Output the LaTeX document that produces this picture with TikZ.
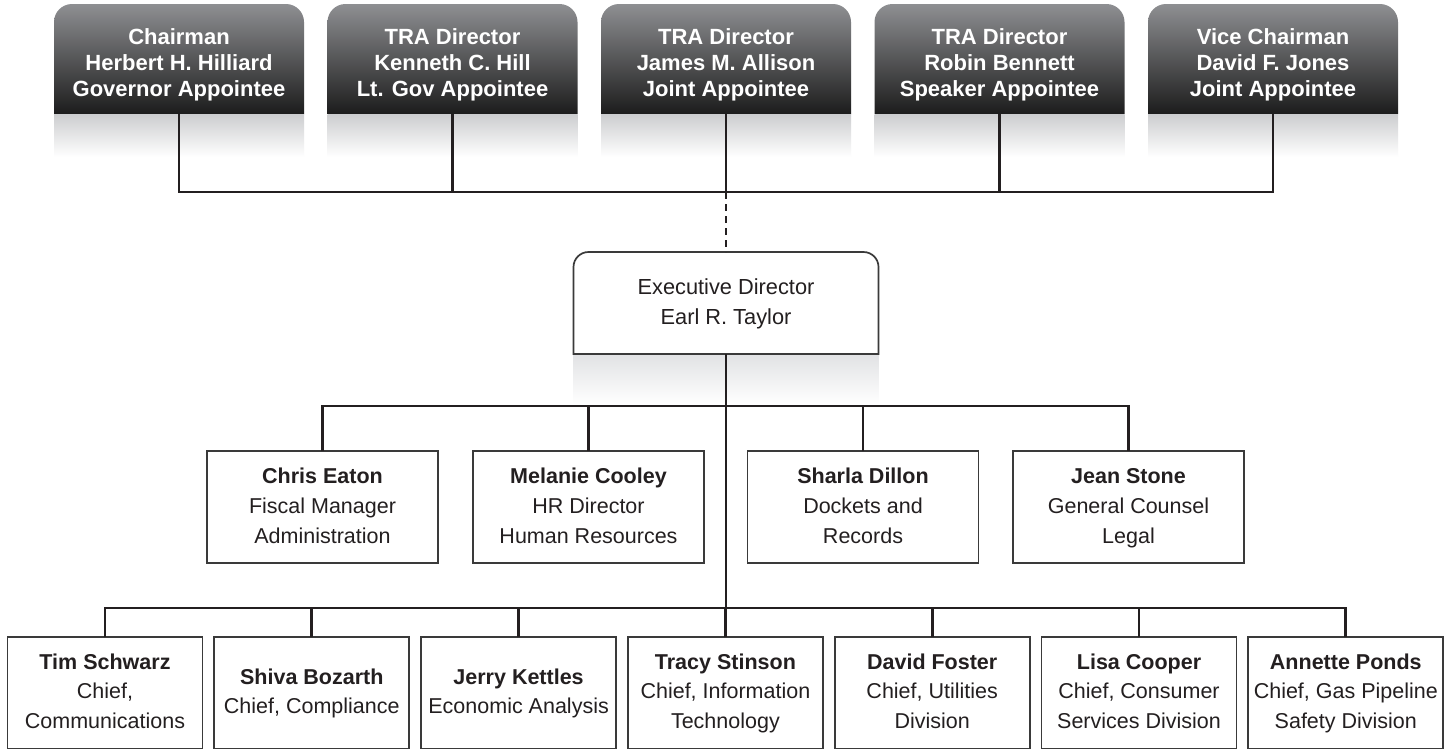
\documentclass[tikz,border=0pt]{standalone}
\usepackage{fontspec}
\setmainfont{Liberation Sans}
\pgfdeclarelayer{background}
\pgfsetlayers{background,main}
\definecolor{topgray}{HTML}{8E8F92}
\definecolor{botdark}{HTML}{1C1C1C}
\definecolor{refl}{HTML}{CCCDCF}
\definecolor{refltwo}{HTML}{E1E2E4}
\definecolor{ink}{HTML}{231F20}
\definecolor{edgegray}{HTML}{3A3A3A}
\tikzset{
  board/.style={minimum width=250pt, minimum height=110pt, inner sep=0pt, outer sep=0pt},
  boardtxt/.style={inner sep=0pt, align=center, text=white, font=\fontsize{22}{26}\selectfont\bfseries},
  execbox/.style={minimum width=305pt, minimum height=102pt, inner sep=0pt, outer sep=0pt, align=center, text=ink, font=\fontsize{21.8}{30}\selectfont},
  staff/.style={draw=edgegray, line width=1.7pt, minimum width=231pt, minimum height=112pt, inner sep=0pt, outer sep=0pt, align=center, text=ink, font=\fontsize{21.5}{30}\selectfont},
  chief/.style={staff, minimum width=195pt, font=\fontsize{21.5}{29.5}\selectfont},
  conn/.style={line width=2.8pt, draw=ink},
  dashconn/.style={conn, dash pattern=on 7pt off 5pt},
}
\begin{document}
\begin{tikzpicture}[x=1pt,y=-1pt]
\useasboundingbox (0,0) rectangle (1452,748);
\clip (0,0) rectangle (1452,748);

% board
\node[board] (t1) at (179,59) {};
\node[board] (t2) at (452.5,59) {};
\node[board] (t3) at (726,59) {};
\node[board] (t4) at (999.5,59) {};
\node[board] (t5) at (1273,59) {};
\node[boardtxt] (t1x) at ([yshift=-6pt]t1.center) {\strut Chairman\\\strut Herbert H. Hilliard\\\strut Governor Appointee};
\node[boardtxt] (t2x) at ([yshift=-6pt]t2.center) {\strut TRA Director\\\strut Kenneth C. Hill\\\strut Lt. Gov Appointee};
\node[boardtxt] (t3x) at ([yshift=-6pt]t3.center) {\strut TRA Director\\\strut James M. Allison\\\strut Joint Appointee};
\node[boardtxt] (t4x) at ([yshift=-6pt]t4.center) {\strut TRA Director\\\strut Robin Bennett\\\strut Speaker Appointee};
\node[boardtxt] (t5x) at ([yshift=-6pt]t5.center) {\strut Vice Chairman\\\strut David F. Jones\\\strut Joint Appointee};

% executive
\node[execbox] (ed) at (726,303) {\strut Executive Director\\\strut Earl R. Taylor};

% staff
\node[staff] (s1) at (322.5,507) {\strut\textbf{Chris Eaton}\\\strut Fiscal Manager\\\strut Administration};
\node[staff] (s2) at (588.5,507) {\strut\textbf{Melanie Cooley}\\\strut HR Director\\\strut Human Resources};
\node[staff] (s3) at (863,507) {\strut\textbf{Sharla Dillon}\\\strut Dockets and\\\strut Records};
\node[staff] (s4) at (1128.5,507) {\strut\textbf{Jean Stone}\\\strut General Counsel\\\strut Legal};

% chiefs
\node[chief] (c1) at (105,693) {\strut\textbf{Tim Schwarz}\\\strut Chief,\\\strut Communications};
\node[chief] (c2) at (311.8,693) {\strut\textbf{Shiva Bozarth}\\\strut Chief, Compliance};
\node[chief] (c3) at (518.6,693) {\strut\textbf{Jerry Kettles}\\\strut Economic Analysis};
\node[chief] (c4) at (725.4,693) {\strut\textbf{Tracy Stinson}\\\strut Chief, Information\\\strut Technology};
\node[chief] (c5) at (932.2,693) {\strut\textbf{David Foster}\\\strut Chief, Utilities\\\strut Division};
\node[chief] (c6) at (1139,693) {\strut\textbf{Lisa Cooper}\\\strut Chief, Consumer\\\strut Services Division};
\node[chief] (c7) at (1345.8,693) {\strut\textbf{Annette Ponds}\\\strut Chief, Gas Pipeline\\\strut Safety Division};

\begin{pgfonlayer}{background}
  \fill[white] (0,0) rectangle (1452,748);
  \foreach \n in {t1,t2,t3,t4,t5} {
    \shade[top color=topgray, bottom color=botdark]
      (\n.south west) [rounded corners=18pt] -- (\n.north west) -- (\n.north east) [sharp corners] -- (\n.south east) -- cycle;
    \shade[top color=refl, bottom color=white]
      (\n.south west) rectangle ([yshift=-43pt]\n.south east);
  }
  \shade[top color=refltwo, bottom color=white]
    (ed.south west) rectangle ([yshift=-50pt]ed.south east);
  \filldraw[fill=white, draw=edgegray, line width=1.7pt]
    (ed.south west) [rounded corners=15pt] -- (ed.north west) -- (ed.north east) [sharp corners] -- (ed.south east) -- cycle;
\end{pgfonlayer}

% connectors
\coordinate (topbus) at (726,192);
\coordinate (mbus) at (726,406);
\coordinate (cbus) at (726,608);
\draw[conn] (t1.south) -- (t1.south |- topbus) -- (t5.south |- topbus) -- (t5.south);
\draw[conn] (t2.south) -- (t2.south |- topbus);
\draw[conn] (t3.south) -- (topbus);
\draw[conn] (t4.south) -- (t4.south |- topbus);
\draw[dashconn] (topbus) -- (ed.north);
\draw[conn] (ed.south) -- (cbus);
\draw[conn] (s1.north) -- (s1.north |- mbus) -- (s4.north |- mbus) -- (s4.north);
\draw[conn] (s2.north) -- (s2.north |- mbus);
\draw[conn] (s3.north) -- (s3.north |- mbus);
\draw[conn] (c1.north) -- (c1.north |- cbus) -- (c7.north |- cbus) -- (c7.north);
\foreach \n in {c2,c3,c4,c5,c6} {
  \draw[conn] (\n.north) -- (\n.north |- cbus);
}
\end{tikzpicture}
\end{document}
